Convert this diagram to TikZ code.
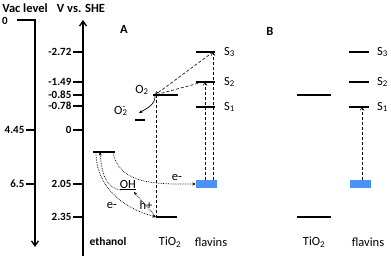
\documentclass[tikz,border=0pt]{standalone}
\usepackage{fontspec}
\setmainfont{Carlito}
\usetikzlibrary{arrows.meta,positioning,calc}
\definecolor{flvclr}{RGB}{72,146,250}
\tikzset{
  scl/.style  = {line width=1.3pt},
  lvl/.style  = {line width=1.2pt},
  num/.style  = {font=\fontsize{11}{12}\selectfont\bfseries, inner sep=1pt},
  hdr/.style  = {font=\fontsize{12.5}{14}\selectfont\bfseries, inner sep=0pt},
  lbl/.style  = {font=\fontsize{12.5}{14}\selectfont, inner sep=0pt},
  dsh/.style  = {densely dashed, line width=0.6pt, -{Straight Barb[length=3pt,width=4pt]}},
  dtt/.style  = {densely dotted, line width=0.7pt, -{Stealth[length=3.5pt,width=3pt]}},
  flv/.style  = {fill=flvclr, minimum width=21pt, minimum height=8pt, inner sep=0pt},
}

\begin{document}
\begin{tikzpicture}[x=1pt,y=-1pt]
    \useasboundingbox (0,0) rectangle (391,256);
    % -- Headers ---------------------------------------------------
    \node[hdr] (vac) at (25,8) {Vac level};
    \node[hdr] (she) at (81,8) {V vs. SHE};
    \node[hdr] (pA) at (124,29) {A};
    \node[hdr] (pB) at (270,31) {B};

    % -- Vacuum scale ----------------------------------------------
    \node[num] (v0) at (5,21) {0};
    \draw[scl, -{Straight Barb[length=5pt,width=7pt]}] (17,20) -- (35,20) -- (35,247);
    \foreach \i/\y/\v in {1/130/4.45, 2/184/6.5}{
        \draw[scl] (35,\y) -- ++(-9,0) node[num, anchor=east] (vl\i) {\v};
    }

    % -- SHE scale -------------------------------------------------
    \draw[scl, -{Straight Barb[length=5pt,width=7pt]}] (83,256) -- (83,20);
    \foreach \i/\y/\v in {1/52/-2.72, 2/82/-1.49, 3/95/-0.85, 4/106/-0.78,
                          5/130/0, 6/184/2.05, 7/217/2.35}{
        \draw[scl] (83,\y) -- ++(-10,0) node[num, anchor=east] (sl\i) {\v};
    }

    % -- Panel A: levels -------------------------------------------
    \coordinate (cbAw) at (153,95);  \coordinate (cbAe) at (178,95);
    \coordinate (vbAw) at (156,217); \coordinate (vbAe) at (177,217);
    \coordinate (ethW) at (93,152);  \coordinate (ethE) at (115,152);
    \coordinate (o2mW) at (135,120); \coordinate (o2mE) at (145,120);
    \draw[lvl] (cbAw) -- (cbAe);
    \draw[lvl] (vbAw) -- (vbAe);
    \draw[lvl] (ethW) -- (ethE);
    \draw[lvl] (o2mW) -- (o2mE);
    \draw[densely dashed, line width=0.8pt] (156,95) -- (vbAw);
    \foreach \i/\y in {3/52, 2/82, 1/107}{
        \draw[lvl] (196,\y) -- (215,\y);
        \node[lbl, anchor=west] (sA\i) at (224,\y) {S\textsubscript{\i}};
    }
    \node[flv] (flvA) at (206.5,184) {};

    % -- Panel A: transfers ----------------------------------------
    \coordinate (s2A) at (205,82);
    \coordinate (s3A) at (213,52);
    \coordinate (o2A) at (155,95);
    \draw[dsh] (flvA.north -| s2A) -- (s2A);
    \draw[dsh] (flvA.north -| s3A) -- (s3A);
    \draw[dsh] (s3A) -- (o2A);
    \draw[dsh] ([xshift=-2pt]s2A) -- (o2A);
    \draw[line width=0.7pt, -{Stealth[length=3.5pt,width=3pt]}] (o2A) to[out=-85,in=30] (139,113);
    \node[lbl] (o2) at (142,90) {O\textsubscript{2}};
    \node[lbl] (o2m) at (121,111) {O\rlap{\textsubscript{2}}\textsuperscript{-}\,};

    \node[lbl] (oh) at (128,185) {\underline{OH}};
    \draw[dtt] ([xshift=-2pt]ethE) to[out=-80,in=180] (flvA.west);
    \draw[dtt] (121,190) to[out=175,in=-85] (100,152);
    \draw[dtt] (96,152) to[out=-90,in=165] (vbAw);
    \draw[dtt] (vbAw) -- (134,192);
    \node[lbl] (eup) at (177,178) {e-};
    \node[lbl] (hp) at (146,205) {h+};
    \node[lbl] (elo) at (112,206) {e-};

    \node[hdr, font=\fontsize{11.5}{13}\selectfont\bfseries] (eth) at (108,242) {ethanol};
    \node[lbl] (tiA) at (170,242) {TiO\textsubscript{2}};
    \node[lbl] (flA) at (211,242) {flavins};

    % -- Panel B ---------------------------------------------------
    \draw[lvl] (297,95) -- (331,95);
    \draw[lvl] (297,217) -- (331,217);
    \foreach \i/\y in {3/52, 2/82, 1/107}{
        \draw[lvl] (349,\y) -- (369,\y);
        \node[lbl, anchor=west] (sB\i) at (377,\y) {S\textsubscript{\i}};
    }
    \node[flv] (flvB) at (360,184) {};
    \coordinate (s1B) at (362,107);
    \draw[dsh] (flvB.north -| s1B) -- (s1B);
    \node[lbl] (tiB) at (314,242) {TiO\textsubscript{2}};
    \node[lbl] (flB) at (368,242) {flavins};
\end{tikzpicture}
\end{document}
